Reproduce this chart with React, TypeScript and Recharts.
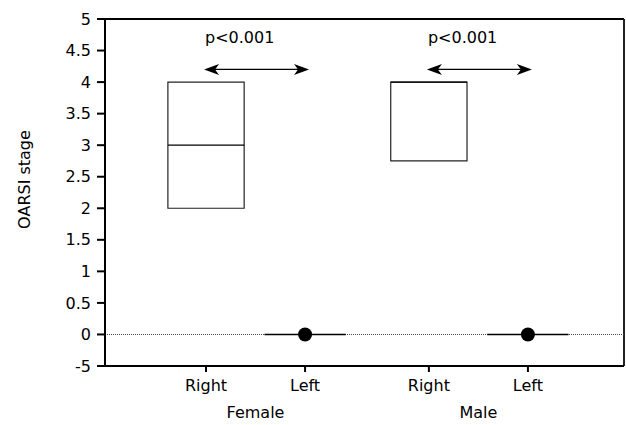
import React from "react";
import {
  ComposedChart,
  XAxis,
  YAxis,
  ReferenceArea,
  ReferenceLine,
  Scatter,
} from "recharts";

// ---- data ----
const groups = ["Female", "Male"];
const sides = ["Right", "Left", "Right", "Left"];
const q1 = [2, 0, 2.75, 0];
const median = [3, 0, 4, 0];
const q3 = [4, 0, 4, 0];
const dots: (number | null)[] = [null, 0, null, 0];
const pValues = ["p<0.001", "p<0.001"];
const arrowLevel = [4.2, 4.2];
const yTicks = [-0.5, 0, 0.5, 1, 1.5, 2, 2.5, 3, 3.5, 4, 4.5, 5];
const yTickLabels = ["-5", "0", "0.5", "1", "1.5", "2", "2.5", "3", "3.5", "4", "4.5", "5"];

// ---- layout ----
const POS = [1, 2, 3.25, 4.25];
const X_DOMAIN: [number, number] = [-0.02, 5.22];
const BOX_HALF = 0.385;
const LINE_HALF = 0.41;
const FONT = "DejaVu Sans";

const dotData = dots
  .map((v, i) => (v === null ? null : { x: POS[i], y: v }))
  .filter(Boolean) as { x: number; y: number }[];

const groupTicks = groups.map((_, g) => (POS[2 * g] + POS[2 * g + 1]) / 2);

const ArrowShape = (props: any) => {
  const { x1, y1, x2, y2, text } = props;
  const len = 15;
  const half = 5.5;
  const notch = 4;
  return (
    <g>
      <line x1={x1 + len - notch} y1={y1} x2={x2 - len + notch} y2={y2} stroke="#000" strokeWidth={1.3} />
      <polygon
        points={`${x1},${y1} ${x1 + len},${y1 - half} ${x1 + len - notch},${y1} ${x1 + len},${y1 + half}`}
        fill="#000"
      />
      <polygon
        points={`${x2},${y2} ${x2 - len},${y2 - half} ${x2 - len + notch},${y2} ${x2 - len},${y2 + half}`}
        fill="#000"
      />
      <text x={x1 + 1} y={y1 - 26} fontSize={16} fontFamily={FONT} fill="#000" textAnchor="start">
        {text}
      </text>
    </g>
  );
};

const YLabel = (props: any) => {
  const vb = props.viewBox || { x: 0, y: 19, width: 105, height: 347 };
  const cx = vb.x + 30;
  const cy = vb.y + vb.height / 2 - 13;
  return (
    <text
      x={cx}
      y={cy}
      transform={`rotate(-90, ${cx}, ${cy})`}
      textAnchor="middle"
      fontSize={16}
      fontFamily={FONT}
      fill="#000"
    >
      OARSI stage
    </text>
  );
};

export default function App() {
  const tickStyle = { fontSize: 16, fill: "#000", fontFamily: FONT };
  return (
    <div style={{ position: "absolute", left: 0, top: 0, background: "#fff" }}>
      <ComposedChart
        width={626}
        height={425}
        margin={{ top: 19, right: 2, bottom: 0, left: 0 }}
      >
        <XAxis
          xAxisId={0}
          dataKey="x"
          type="number"
          domain={X_DOMAIN}
          allowDataOverflow
          ticks={POS}
          interval={0}
          tickFormatter={(v: number) => sides[POS.indexOf(v)] ?? ""}
          height={41}
          tickSize={6}
          tickMargin={8}
          tick={tickStyle}
          axisLine={{ stroke: "#000", strokeWidth: 2 }}
          tickLine={{ stroke: "#000", strokeWidth: 2 }}
        />
        <XAxis
          xAxisId="group"
          dataKey="x"
          type="number"
          domain={X_DOMAIN}
          allowDataOverflow
          ticks={groupTicks}
          interval={0}
          tickFormatter={(v: number) => groups[groupTicks.indexOf(v)] ?? ""}
          height={18}
          tickSize={0}
          tickMargin={0}
          tick={tickStyle}
          axisLine={false}
          tickLine={false}
        />
        <YAxis
          dataKey="y"
          type="number"
          domain={[-0.5, 5]}
          allowDataOverflow
          ticks={yTicks}
          interval={0}
          tickFormatter={(v: number) => yTickLabels[yTicks.indexOf(v)] ?? String(v)}
          width={105}
          tickSize={8}
          tickMargin={6}
          tick={tickStyle}
          axisLine={{ stroke: "#000", strokeWidth: 2 }}
          tickLine={{ stroke: "#000", strokeWidth: 2 }}
          label={<YLabel />}
        />
        {/* frame */}
        <ReferenceLine y={5} stroke="#000" strokeWidth={2} />
        <ReferenceLine x={X_DOMAIN[1]} stroke="#222" strokeWidth={2} />
        {/* zero line */}
        <ReferenceLine y={0} stroke="#444" strokeWidth={1} strokeDasharray="1 1" />
        {/* boxes */}
        {POS.map((p, i) =>
          q3[i] > q1[i] ? (
            <ReferenceArea
              key={"box" + i}
              x1={p - BOX_HALF}
              x2={p + BOX_HALF}
              y1={q1[i]}
              y2={q3[i]}
              fill="none"
              fillOpacity={0}
              stroke="#222"
              strokeWidth={1.2}
              strokeOpacity={1}
            />
          ) : null
        )}
        {POS.map((p, i) => {
          const h = q3[i] > q1[i] ? BOX_HALF : LINE_HALF;
          return (
            <ReferenceLine
              key={"med" + i}
              segment={[
                { x: p - h, y: median[i] },
                { x: p + h, y: median[i] },
              ]}
              stroke="#000"
              strokeWidth={q3[i] > q1[i] ? 1.2 : 1.6}
            />
          );
        })}
        {/* significance arrows */}
        {groups.map((g, gi) => (
          <ReferenceLine
            key={"arr" + gi}
            segment={[
              { x: POS[2 * gi] - 0.02, y: arrowLevel[gi] },
              { x: POS[2 * gi + 1] + 0.04, y: arrowLevel[gi] },
            ]}
            stroke="#000"
            shape={(p: any) => <ArrowShape {...p} text={pValues[gi]} />}
          />
        ))}
        <Scatter
          data={dotData}
          dataKey="y"
          isAnimationActive={false}
          fill="#000"
          shape={(p: any) => <circle cx={p.cx} cy={p.cy} r={7} fill="#000" />}
        />
      </ComposedChart>
    </div>
  );
}
